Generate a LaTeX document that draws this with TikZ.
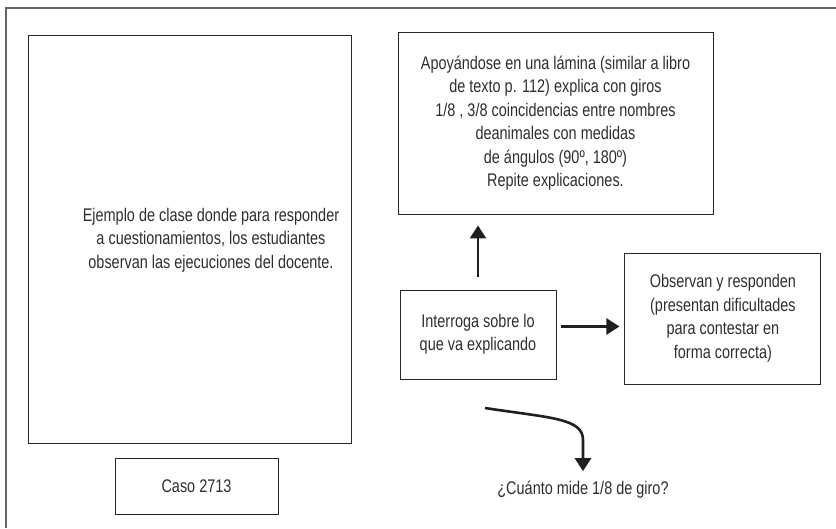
\documentclass[tikz,border=0pt]{standalone}
\usepackage{fontspec}
\setmainfont[FakeStretch=0.79]{Liberation Sans}
\usepackage{tikz}
\usetikzlibrary{positioning, calc, arrows.meta}

\begin{document}
\begin{tikzpicture}[x=1pt, y=-1pt, every node/.style={inner sep=0pt, align=center, text=black!82, font=\fontsize{18.3}{23.5}\selectfont}, box/.style={draw=black!85, line width=0.9pt}, arrow/.style={-{Triangle[width=16pt, length=13pt]}, line width=2.6pt, black!88}, frame/.style={draw=black!60, line width=1.4pt}]
  \useasboundingbox (0,0) rectangle (836,528);
  \draw[frame] (836,8) -- (6,8) -- (6,528);

  \node[box, minimum width=323pt, minimum height=408pt] (clase) at (189.5,239) {};
  \node (claseTxt) at (211,240) {Ejemplo de clase donde para responder\\a cuestionamientos, los estudiantes\\observan las ejecuciones del docente.};
  \node[box, minimum width=163pt, minimum height=56pt] (caso) at (196.5,486) {Caso 2713};

  \node[box, minimum width=315pt, minimum height=182pt] (apoyo) at (555.5,123) {Apoyándose en una lámina (similar a libro\\de texto p. 112) explica con giros\\1/8 , 3/8 coincidencias entre nombres\\deanimales con medidas\\de ángulos (90º, 180º)\\Repite explicaciones.};
  \node[box, minimum width=156pt, minimum height=89pt] (interroga) at (478,334.5) {Interroga sobre lo\\que va explicando};
  \node[box, minimum width=196pt, minimum height=131pt, right=68pt of interroga.east, anchor=west, yshift=16pt] (observan) {Observan y responden\\(presentan dificultades\\para contestar en\\forma correcta)};
  \node (pregunta) at (583,490) {¿Cuánto mide 1/8 de giro?};
  \coordinate (curvaIni) at (485,408);

  \draw[arrow, shorten <=13pt, shorten >=11pt] (interroga.north) -- (interroga.north |- apoyo.south);
  \draw[arrow, shorten <=5pt, shorten >=5pt] ([yshift=8pt]interroga.east) -- ([yshift=8pt]interroga.east -| observan.west);
  \draw[arrow] (curvaIni) .. controls (550,418) and (583,418) .. (583,440) -- ($(pregunta.north)+(0,-10)$);
\end{tikzpicture}
\end{document}
